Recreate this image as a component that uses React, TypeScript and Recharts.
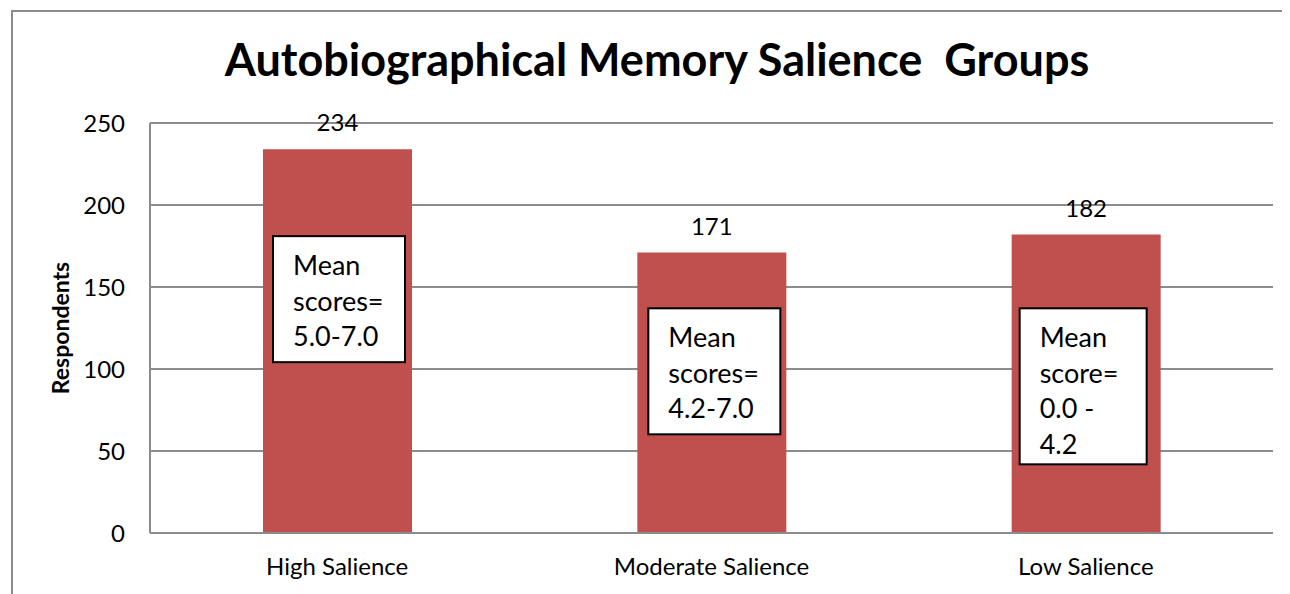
import { BarChart, Bar, XAxis, YAxis, CartesianGrid, LabelList } from "recharts";

const categories = ["High Salience", "Moderate Salience", "Low Salience"];
const respondents = [234, 171, 182];
const yTicks = [0, 50, 100, 150, 200, 250];
const noteLines = [
  ["Mean", "scores=", "5.0-7.0"],
  ["Mean", "scores=", "4.2-7.0"],
  ["Mean", "score=", "0.0 -", "4.2"],
];

const data = categories.map((name, i) => ({ name, value: respondents[i] }));

// text-box placement (top in axis units, size/offset in px)
const NOTE_TOP = [181, 137, 137];
const NOTE_BOX = [
  { dx: 10, w: 132, h: 126 },
  { dx: 11, w: 132, h: 126 },
  { dx: 8, w: 127, h: 156 },
];

const FONT = "Lato, 'Open Sans', sans-serif";
const GRID = "#8c8c8c";

function NoteBox(props: any) {
  const { x, y, width, height, value, index } = props;
  const unit = height / value;
  const base = y + height;
  const top = base - NOTE_TOP[index] * unit;
  const box = NOTE_BOX[index];
  const left = x + box.dx;
  return (
    <g>
      <rect x={left} y={top} width={box.w} height={box.h} fill="#fff" stroke="#000" strokeWidth={2} />
      {noteLines[index].map((line, k) => (
        <text
          key={k}
          x={left + 20}
          y={top + 39 + k * 35.5}
          fontSize={27}
          fontFamily={FONT}
          fill="#000"
        >
          {line}
        </text>
      ))}
    </g>
  );
}

export default function App() {
  return (
    <div style={{ position: "relative", width: 1282, height: 586, overflow: "hidden", fontFamily: FONT }}>
      <div
        style={{
          position: "absolute",
          left: 3,
          top: 2,
          width: 2000,
          height: 2000,
          borderLeft: `2px solid ${GRID}`,
          borderTop: `2px solid ${GRID}`,
        }}
      />
      <div
        style={{
          position: "absolute",
          left: 8,
          top: 24,
          width: 1282,
          textAlign: "center",
          fontSize: 45,
          lineHeight: "54px",
          fontWeight: 700,
          whiteSpace: "pre",
          color: "#000",
        }}
      >
        {"Autobiographical Memory Salience  Groups"}
      </div>
      <BarChart
        width={1282}
        height={586}
        data={data}
        margin={{ top: 115, right: 17, left: 0, bottom: 0 }}
        style={{ position: "absolute", left: 0, top: 0 }}
      >
        <CartesianGrid vertical={false} stroke={GRID} strokeWidth={2} />
        <XAxis
          dataKey="name"
          height={61}
          tickSize={0}
          tickMargin={25}
          stroke={GRID}
          strokeWidth={2}
          tick={{ fill: "#000", fontSize: 24, fontFamily: FONT }}
        />
        <YAxis
          width={142}
          domain={[0, 250]}
          ticks={yTicks}
          tickSize={0}
          tickMargin={25}
          stroke={GRID}
          strokeWidth={2}
          tick={{ fill: "#000", fontSize: 24, fontFamily: FONT }}
          label={{
            value: "Respondents",
            angle: -90,
            position: "insideLeft",
            dx: 48,
            style: { textAnchor: "middle", fontWeight: 700, fontSize: 23, fill: "#000", fontFamily: FONT },
          }}
        />
        <Bar dataKey="value" fill="#C0504D" barSize={149} isAnimationActive={false}>
          <LabelList dataKey="value" position="top" offset={18} fill="#000" fontSize={24} fontFamily={FONT} />
          <LabelList dataKey="value" content={NoteBox} />
        </Bar>
      </BarChart>
    </div>
  );
}
